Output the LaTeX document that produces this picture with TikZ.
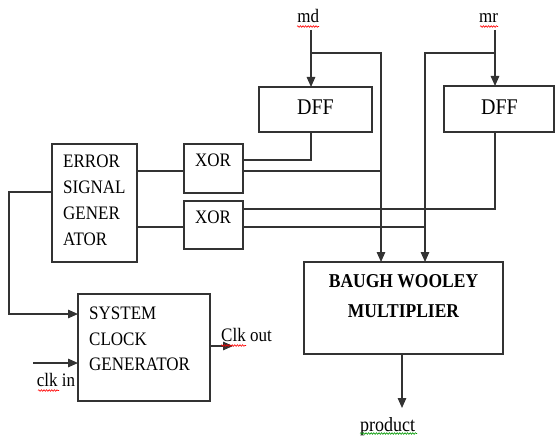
\documentclass[tikz,border=0pt]{standalone}
\usepackage{fontspec}
\setmainfont{Liberation Serif}
\usetikzlibrary{arrows.meta,decorations.pathmorphing}
\newcommand{\vstr}[1]{\scalebox{1}[1.12]{#1}}
\begin{document}
\begin{tikzpicture}[x=1pt,y=-1pt,
  box/.style={draw=black!80, line width=1.3pt, inner sep=0pt, outer sep=0pt},
  wire/.style={draw=black!80, line width=1.3pt},
  arr/.style={wire, -{Triangle[length=10pt,width=8.5pt]}},
  lbl/.style={inner sep=0pt, anchor=base west, font=\fontsize{17}{20}\selectfont},
  wavy/.style={line width=0.6pt, decorate, decoration={snake, amplitude=0.8pt, segment length=2.6pt}}]
\useasboundingbox[fill=white] (0,0) rectangle (556,441);

% boxes
\node[box, minimum width=113pt, minimum height=45pt] (dffL) at (315.5,109.5) {};
\node[box, minimum width=110pt, minimum height=46pt] (dffR) at (499,109) {};
\node[box, minimum width=85pt, minimum height=118pt] (err) at (94.5,203) {};
\node[box, minimum width=59pt, minimum height=49pt] (xor1) at (213.5,168.5) {};
\node[box, minimum width=59pt, minimum height=48pt] (xor2) at (213.5,225) {};
\node[box, minimum width=199pt, minimum height=92pt] (bw) at (403.5,308) {};
\node[box, minimum width=132pt, minimum height=107pt] (sys) at (144,347.5) {};

% texts
\node[lbl, font=\fontsize{20}{24}\selectfont, anchor=base] (dffLt) at (315.5,114) {\vstr{DFF}};
\node[lbl, font=\fontsize{20}{24}\selectfont, anchor=base] (dffRt) at (499.5,114) {\vstr{DFF}};
\node[lbl, anchor=base] (xor1t) at (213,166.5) {\vstr{XOR}};
\node[lbl, anchor=base] (xor2t) at (213,223) {\vstr{XOR}};
\node[lbl] (err1) at (63,167.5) {\vstr{ERROR}};
\node[lbl] (err2) at (63,193.5) {\vstr{SIGNAL}};
\node[lbl] (err3) at (63,219.5) {\vstr{GENER}};
\node[lbl] (err4) at (63,245.5) {\vstr{ATOR}};
\node[lbl] (sys1) at (89,319) {\vstr{SYSTEM}};
\node[lbl] (sys2) at (89,345) {\vstr{CLOCK}};
\node[lbl] (sys3) at (89,370.5) {\vstr{GENERATOR}};
\node[lbl, font=\fontsize{17.5}{20}\bfseries, anchor=base] (bw1t) at (403.5,287) {\vstr{BAUGH WOOLEY}};
\node[lbl, font=\fontsize{17.5}{20}\bfseries, anchor=base] (bw2t) at (403.5,317) {\vstr{MULTIPLIER}};
\node[lbl, anchor=base] (md) at (308.3,23) {\vstr{md}};
\node[lbl, anchor=base] (mr) at (488.5,23) {\vstr{mr}};
\node[lbl, anchor=base] (clkin) at (56,386.5) {\vstr{clk in}};
\node[lbl] (clkout) at (221,341.5) {\vstr{Clk out}};
\node[lbl, font=\fontsize{18}{20}\selectfont, anchor=base] (prod) at (387.5,431) {\vstr{product}};

% coordinates
\coordinate (mdtop) at (311,30);
\coordinate (mdj) at (311,53);
\coordinate (c1) at (381,53);
\coordinate (mrtop) at (495,30);
\coordinate (mrj) at (495,53);
\coordinate (c2) at (425,53);
\coordinate (x1a) at (243,160);
\coordinate (x1b) at (243,171);
\coordinate (x2a) at (243,209);
\coordinate (x2b) at (243,227);
\coordinate (e1) at (137,171);
\coordinate (e2) at (137,227);
\coordinate (e3) at (52,192);
\coordinate (bend) at (9,192);
\coordinate (s1) at (78,314);
\coordinate (cin) at (33,363);
\coordinate (cout) at (233,346);
\coordinate (pend) at (402,408);

% connectors
\draw[arr] (mdtop) -- (mdtop |- dffL.north);
\draw[arr] (mdj) -- (c1) -- (c1 |- bw.north);
\draw[arr] (mrtop) -- (mrtop |- dffR.north);
\draw[arr] (mrj) -- (c2) -- (c2 |- bw.north);
\draw[wire] (mdtop |- dffL.south) |- (x1a);
\draw[wire] (x1b) -- (x1b -| c1);
\draw[wire] (mrtop |- dffR.south) |- (x2a);
\draw[wire] (x2b) -- (x2b -| c2);
\draw[wire] (e1) -- (e1 -| xor1.west);
\draw[wire] (e2) -- (e2 -| xor2.west);
\draw[arr] (e3) -- (bend) |- (s1);
\draw[arr] (cin) -- (cin -| sys.west);
\draw[arr] (sys.east |- cout) -- (cout);
\draw[arr] (pend |- bw.south) -- (pend);

% spell-check underlines
\draw[wavy, red] (297,26.5) -- (319,26.5);
\draw[wavy, red] (480,26.5) -- (498,26.5);
\draw[wavy, red] (38,390.5) -- (59,390.5);
\draw[wavy, red] (221,345.5) -- (246,345.5);
\draw[wavy, green!60!black] (360,433.5) -- (417,433.5);
\end{tikzpicture}
\end{document}
